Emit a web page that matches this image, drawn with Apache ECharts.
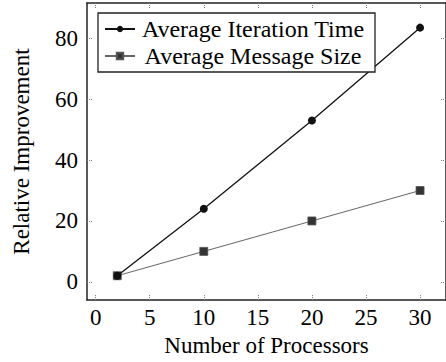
<!DOCTYPE html>
<html>
<head>
<meta charset="utf-8">
<script src="https://cdn.jsdelivr.net/npm/echarts@6/dist/echarts.min.js"></script>
<style>
  html, body { margin: 0; padding: 0; background: #fff; }
  #chart { width: 446px; height: 362px; }
</style>
</head>
<body>
<div id="chart"></div>
<script>
// data
const processors = [2, 10, 20, 30];
const iterationTime = [2, 24, 53, 83.5];
const messageSize = [2, 10, 20, 30];
const xTicks = [0, 5, 10, 15, 20, 25, 30];
const yTicks = [0, 20, 40, 60, 80];

const FONT = 'Liberation Serif';
const FS = 23;

const chart = echarts.init(document.getElementById('chart'), null, { renderer: 'svg' });

const tickStyle = { color: '#777', width: 1, type: 'dotted' };
const axisLineStyle = { color: '#222', width: 1.5 };

const option = {
  backgroundColor: '#fff',
  animation: false,
  grid: { left: 87, top: 3, width: 363, height: 301 },
  xAxis: [{
    type: 'value',
    min: -0.8,
    max: 32.4,
    name: 'Number of Processors',
    nameLocation: 'middle',
    nameGap: 31,
    nameTextStyle: { fontFamily: FONT, fontSize: FS, color: '#000' },
    axisLine: { show: true, onZero: false, lineStyle: axisLineStyle },
    axisTick: { show: true, inside: true, length: 5, customValues: xTicks, lineStyle: tickStyle },
    axisLabel: { customValues: xTicks, margin: 6, fontFamily: FONT, fontSize: FS, color: '#000' },
    splitLine: { show: false }
  }, {
    type: 'value',
    position: 'top',
    min: -0.8,
    max: 32.4,
    axisLine: { show: true, onZero: false, lineStyle: axisLineStyle },
    axisTick: { show: true, inside: true, length: 5, customValues: xTicks, lineStyle: tickStyle },
    axisLabel: { show: false },
    splitLine: { show: false }
  }],
  yAxis: [{
    type: 'value',
    min: -6,
    max: 91.6,
    name: 'Relative Improvement',
    nameLocation: 'middle',
    nameGap: 54,
    nameTextStyle: { fontFamily: FONT, fontSize: FS, color: '#000' },
    axisLine: { show: true, onZero: false, lineStyle: axisLineStyle },
    axisTick: { show: true, inside: true, length: 5, customValues: yTicks, lineStyle: tickStyle },
    axisLabel: { customValues: yTicks, margin: 9, fontFamily: FONT, fontSize: FS, color: '#000' },
    splitLine: { show: false }
  }, {
    type: 'value',
    position: 'right',
    min: -6,
    max: 91.6,
    axisLine: { show: true, onZero: false, lineStyle: axisLineStyle },
    axisTick: { show: true, inside: true, length: 5, customValues: yTicks, lineStyle: tickStyle },
    axisLabel: { show: false },
    splitLine: { show: false }
  }],
  legend: {
    orient: 'vertical',
    left: 98,
    top: 13,
    padding: [4, 9, 4, 6],
    itemGap: 3,
    itemWidth: 30,
    itemHeight: 8,
    backgroundColor: '#fff',
    borderColor: '#222',
    borderWidth: 1.3,
    borderRadius: 0,
    formatter: name => '{t|' + name + '}',
    textStyle: {
      rich: {
        t: { fontFamily: FONT, fontSize: 24, color: '#000', width: 226, align: 'center', lineHeight: 24 }
      }
    },
    data: ['Average Iteration Time', 'Average Message Size']
  },
  series: [{
    name: 'Average Iteration Time',
    type: 'line',
    data: processors.map((p, i) => [p, iterationTime[i]]),
    symbol: 'circle',
    symbolSize: 8,
    itemStyle: { color: '#111' },
    lineStyle: { color: '#111', width: 1.3 },
    z: 3
  }, {
    name: 'Average Message Size',
    type: 'line',
    data: processors.map((p, i) => [p, messageSize[i]]),
    symbol: 'rect',
    symbolSize: 8,
    itemStyle: { color: '#333', borderColor: '#555', borderWidth: 0.8 },
    lineStyle: { color: '#666', width: 1 },
    z: 2
  }]
};

chart.setOption(option);
</script>
</body>
</html>
